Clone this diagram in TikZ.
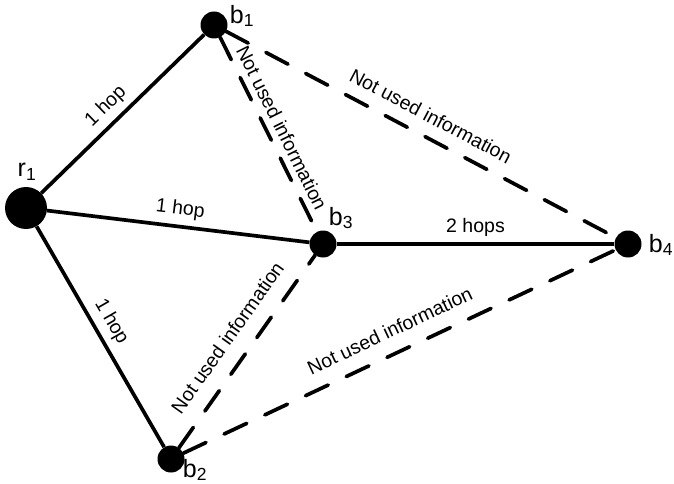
\documentclass[tikz,border=0pt]{standalone}
\usepackage{fontspec}
\setmainfont{Liberation Sans}
\begin{document}
\begin{tikzpicture}[x=1pt,y=-1pt,
  dot/.style={circle,fill=black,inner sep=0pt,minimum size=27pt},
  root/.style={circle,fill=black,inner sep=0pt,minimum size=42pt},
  lbl/.style={font=\fontsize{25}{30}\selectfont, inner sep=0pt},
  elbl/.style={font=\fontsize{19.5}{22}\selectfont, sloped, above=4pt, inner sep=2pt},
  solidedge/.style={line width=3.7pt},
  dashededge/.style={line width=3.7pt, dash pattern=on 25pt off 20pt, line cap=round}
]
\useasboundingbox (0,0) rectangle (674,484);
\node[root] (r1) at (26,208) {};
\node[dot] (b1) at (214,25) {};
\node[dot] (b3) at (323,244) {};
\node[dot] (b4) at (628,244) {};
\node[dot] (b2) at (171,459) {};

\node[lbl] (r1l) at (27,172) {r\textsubscript{1}};
\node[lbl] (b1l) at (242,16) {b\textsubscript{1}};
\node[lbl] (b3l) at (341,218) {b\textsubscript{3}};
\node[lbl] (b4l) at (661,245) {b\textsubscript{4}};
\node[lbl] (b2l) at (195,470) {b\textsubscript{2}};

\draw[solidedge] (r1) -- node[elbl, pos=0.47] {1 hop} (b1);
\draw[solidedge] (r1) -- node[elbl, pos=0.5] {1 hop} (b3);
\draw[solidedge] (r1) -- node[elbl, pos=0.47] {1 hop} (b2);
\draw[solidedge] (b3) -- node[elbl, pos=0.5] {2 hops} (b4);

\draw[dashededge] (b1) -- node[elbl, pos=0.5] {Not used information} (b3);
\draw[dashededge] (b1) -- node[elbl, pos=0.5, above=6pt] {Not used information} (b4);
\draw[dashededge] (b2) -- node[elbl, pos=0.5, above=9pt] {Not used information} (b3);
\draw[dashededge] (b2) -- node[elbl, pos=0.5, above=8pt] {Not used information} (b4);
\end{tikzpicture}
\end{document}
